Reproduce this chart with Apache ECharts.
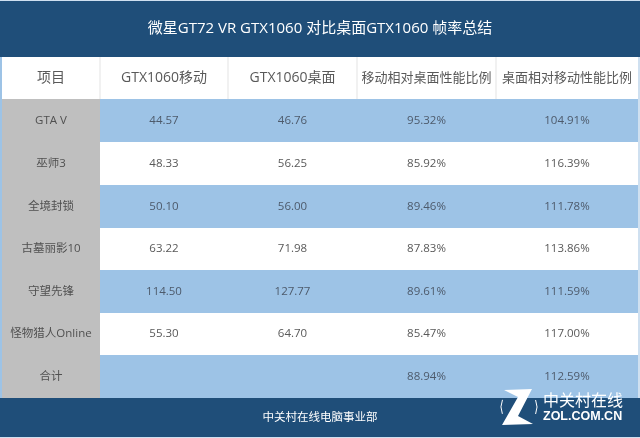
<!DOCTYPE html>
<html>
<head>
<meta charset="utf-8">
<style>html,body{margin:0;padding:0;background:#fff}#chart{width:640px;height:438px}</style>
<script src="https://cdn.jsdelivr.net/npm/echarts@6/dist/echarts.min.js"></script>
</head>
<body>
<div id="chart"></div>
<script>
var titleText = '微星GT72 VR GTX1060 对比桌面GTX1060 帧率总结';
var footerText = '中关村在线电脑事业部';
var headers = ['项目', 'GTX1060移动', 'GTX1060桌面', '移动相对桌面性能比例', '桌面相对移动性能比例'];
var games = ['GTA V', '巫师3', '全境封锁', '古墓丽影10', '守望先锋', '怪物猎人Online', '合计'];
var mobileFps = [44.57, 48.33, 50.10, 63.22, 114.50, 55.30, null];
var desktopFps = [46.76, 56.25, 56.00, 71.98, 127.77, 64.70, null];
var mobileRatio = [95.32, 85.92, 89.46, 87.83, 89.61, 85.47, 88.94];
var desktopRatio = [104.91, 116.39, 111.78, 113.86, 111.59, 117.00, 112.59];

// table geometry, in axis units (the axes span the whole canvas)
var colEdges = [2, 100, 228, 357, 496, 638];
var rowEdges = [99, 142, 185, 228, 270, 313, 355, 398];
var headerTop = 57;

var fontFamily = '"Open Sans","Noto Sans CJK SC",sans-serif';
var dark = '#1f4e79', blue = '#9dc3e6', gray = '#bfbfbf', ink = '#595959', blueInk = '#4d5a6b';

function fps(v) { return v == null ? '' : v.toFixed(2); }
function pct(v) { return v.toFixed(2) + '%'; }

// [x0, y0, x1, y1, fill, text, textColor, fontSize]
var cells = [];
function addCell(c, y0, y1, fill, text, color, size) {
  cells.push([colEdges[c], y0, colEdges[c + 1], y1, fill, text, color, size]);
}

cells.push([0, 1, 640, headerTop, dark, titleText, '#ffffff', 15]);
cells.push([0, headerTop, 2, rowEdges[7], blue, '', ink, 12]);
headers.forEach(function (h, c) {
  addCell(c, headerTop, rowEdges[0], '#ffffff', h, ink, c >= 3 ? 13 : 14);
  if (c > 0) {
    cells.push([colEdges[c] - 0.5, headerTop, colEdges[c] + 0.5, rowEdges[0], '#e4e4e4', '', ink, 12]);
  }
});
games.forEach(function (g, r) {
  var onBlue = r % 2 === 0;
  var y0 = rowEdges[r], y1 = rowEdges[r + 1];
  var vals = [fps(mobileFps[r]), fps(desktopFps[r]), pct(mobileRatio[r]), pct(desktopRatio[r])];
  addCell(0, y0, y1, gray, g, '#505050', 11.5);
  vals.forEach(function (v, i) {
    addCell(i + 1, y0, y1, onBlue ? blue : '#ffffff', v, onBlue ? blueInk : ink, 11.5);
  });
});
cells.push([0, 398, 640, 437, dark, footerText, '#ffffff', 11.5]);

function renderCell(params, api) {
  var d = cells[params.dataIndex];
  var p0 = api.coord([d[0], d[1]]);
  var p1 = api.coord([d[2], d[3]]);
  return {
    type: 'group',
    children: [{
      type: 'rect',
      shape: { x: p0[0], y: p0[1], width: p1[0] - p0[0], height: p1[1] - p0[1] },
      style: { fill: d[4] }
    }, {
      type: 'text',
      z2: 5,
      style: {
        x: (p0[0] + p1[0]) / 2,
        y: (p0[1] + p1[1]) / 2,
        text: d[5],
        fill: d[6],
        fontSize: d[7],
        fontFamily: fontFamily,
        align: 'center',
        verticalAlign: 'middle'
      }
    }]
  };
}

var chart = echarts.init(document.getElementById('chart'), null, { renderer: 'canvas' });
chart.setOption({
  animation: false,
  backgroundColor: '#cfe0f0',
  grid: { left: 0, right: 0, top: 0, bottom: 0 },
  xAxis: { type: 'value', min: 0, max: 640, show: false },
  yAxis: { type: 'value', min: 0, max: 438, inverse: true, show: false },
  series: [{
    type: 'custom',
    coordinateSystem: 'cartesian2d',
    silent: true,
    clip: false,
    data: cells.map(function (d) { return [d[0], d[1]]; }),
    renderItem: renderCell
  }],
  // zol logo in the bottom right corner
  graphic: [{
    type: 'polygon',
    z: 20,
    shape: { points: [[504, 390], [532, 389], [518, 416], [533, 424], [502, 425], [518, 397]] },
    style: { fill: '#ffffff' }
  }, {
    type: 'arc',
    z: 20,
    shape: { cx: 519, cy: 407, r: 18, startAngle: 2.75, endAngle: 3.55 },
    style: { stroke: '#ffffff', lineWidth: 1, fill: null }
  }, {
    type: 'arc',
    z: 20,
    shape: { cx: 519, cy: 407, r: 18, startAngle: -0.4, endAngle: 0.4 },
    style: { stroke: '#ffffff', lineWidth: 1, fill: null }
  }, {
    type: 'text',
    z: 20,
    left: 543,
    top: 393,
    style: { text: '中关村在线', fill: '#ffffff', fontSize: 16, fontFamily: fontFamily }
  }, {
    type: 'text',
    z: 20,
    left: 543,
    top: 410,
    style: { text: 'ZOL.COM.CN', fill: '#ffffff', fontSize: 12.5, fontWeight: 'bold', fontFamily: 'Liberation Sans' }
  }]
});
</script>
</body>
</html>
